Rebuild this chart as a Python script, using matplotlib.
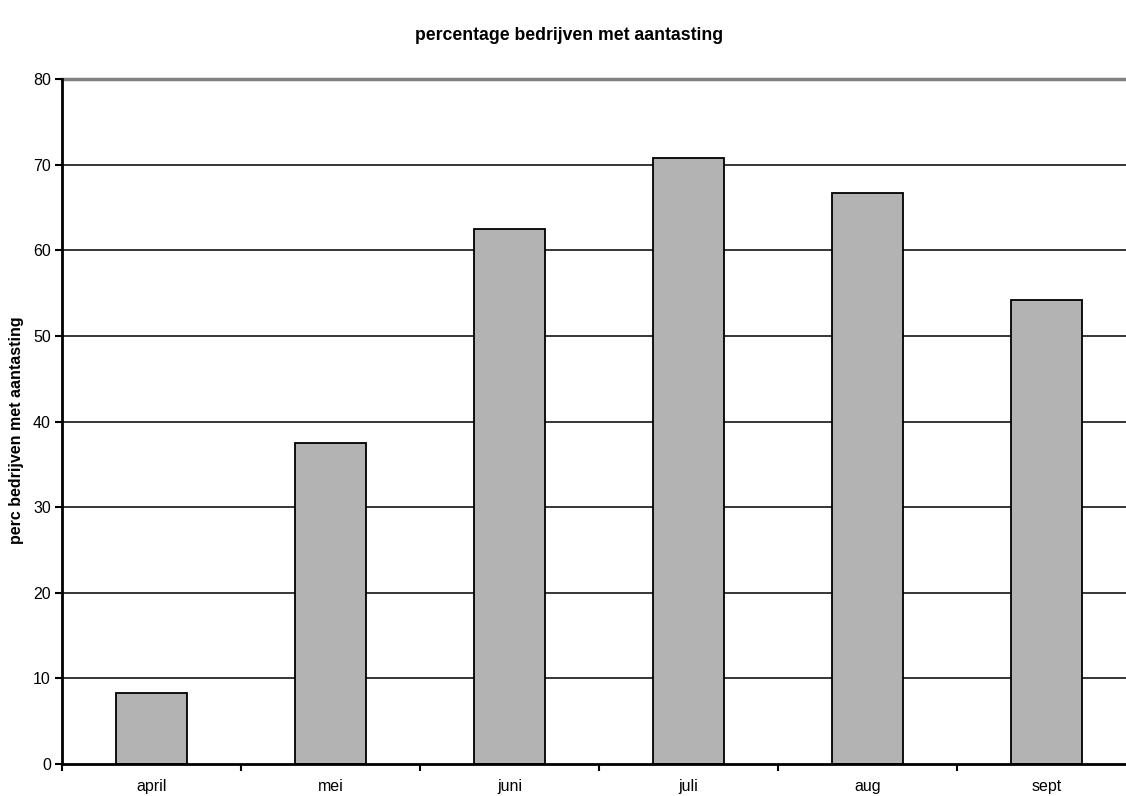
import matplotlib
matplotlib.use("Agg")
import matplotlib.pyplot as plt
from matplotlib.ticker import FixedLocator, NullFormatter

categories = ["april", "mei", "juni", "juli", "aug", "sept"]
values = [8.3, 37.5, 62.5, 70.8, 66.7, 54.2]
yticks = [0, 10, 20, 30, 40, 50, 60, 70, 80]

plt.rcParams['font.family'] = ['Liberation Sans', 'DejaVu Sans']

W, H = 1126, 796
fig = plt.figure(figsize=(W/100, H/100), dpi=100)
left, right, top, bottom = 62, 1136, 79, 764
ax = fig.add_axes([left/W, 1 - bottom/H, (right-left)/W, (bottom-top)/H])

x = list(range(len(categories)))
ax.bar(x, values, width=0.4, color="#b3b3b3", edgecolor="black", linewidth=1.3, zorder=3)

ax.set_xlim(-0.5, len(categories) - 0.5)
ax.set_ylim(0, 80)
ax.set_yticks(yticks)
ax.set_yticklabels([str(t) for t in yticks], fontsize=11.5)
for t in yticks[1:-1]:
    ax.axhline(t, color="black", linewidth=1.1, zorder=1)
ax.axhline(80, color="#808080", linewidth=2.5, zorder=1, clip_on=False)

ax.set_xticks(x)
ax.set_xticklabels(categories, fontsize=11.5)
ax.tick_params(axis='x', length=0, pad=11)
ax.xaxis.set_minor_locator(FixedLocator([i + 0.5 for i in range(-1, len(categories))]))
ax.xaxis.set_minor_formatter(NullFormatter())
ax.tick_params(axis='x', which='minor', length=5, width=1.5, direction='out')
ax.tick_params(axis='y', length=5, width=1.5, direction='out', pad=3)

for s in ["top", "right"]:
    ax.spines[s].set_visible(False)
ax.spines["left"].set_linewidth(2)
ax.spines["bottom"].set_linewidth(2)
ax.spines["left"].set_zorder(4)
ax.spines["bottom"].set_zorder(4)

fig.text(569/W, 1 - 36/H, "percentage bedrijven met aantasting", ha="center", va="center",
         fontsize=12.7, fontweight="bold")
fig.text(17/W, 1 - 430/H, "perc bedrijven met aantasting", ha="center", va="center",
         rotation=90, fontsize=11.5, fontweight="bold")

fig.savefig("out.png", dpi=100)
